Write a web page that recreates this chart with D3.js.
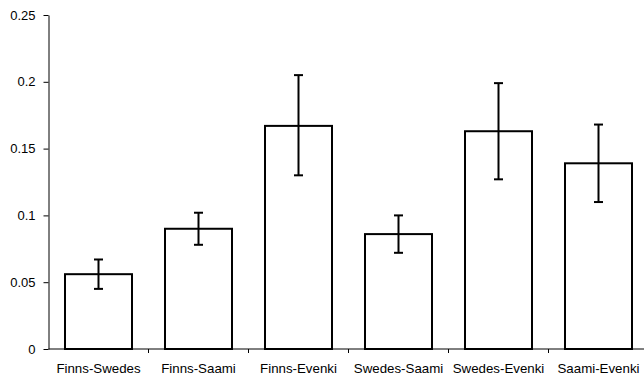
<!DOCTYPE html>
<html>
<head>
<meta charset="utf-8">
<script src="https://cdn.jsdelivr.net/npm/d3@7"></script>
<style>
  body { margin: 0; background: #fff; }
  text { font-family: "Liberation Sans", Arial, sans-serif; fill: #000; }
</style>
</head>
<body>
<div id="chart"></div>
<script>
// pair names along the x axis
var pairs = ["Finns-Swedes", "Finns-Saami", "Finns-Evenki", "Swedes-Saami", "Swedes-Evenki", "Saami-Evenki"];
// bar heights
var values = [0.056, 0.090, 0.167, 0.086, 0.163, 0.139];
// error bar ends
var errLow = [0.045, 0.078, 0.130, 0.072, 0.127, 0.110];
var errHigh = [0.067, 0.102, 0.205, 0.100, 0.199, 0.168];
var yTicks = [0, 0.05, 0.1, 0.15, 0.2, 0.25];

var margin = {top: 15, right: 0, bottom: 30, left: 48.5},
    width = 644 - margin.left - margin.right,
    height = 379 - margin.top - margin.bottom;

var svg = d3.select("#chart").append("svg")
    .attr("width", 644)
    .attr("height", 379)
  .append("g")
    .attr("transform", "translate(" + margin.left + "," + margin.top + ")");

// band range runs a bit past the right edge, like the original
var x = d3.scaleBand().domain(pairs).range([0, 600]).paddingInner(0.33).paddingOuter(0.165);
var xb = d3.scaleBand().domain(pairs).range([0, 600]);
var y = d3.scaleLinear().domain([0, 0.25]).range([height, 0]);

// bars
svg.selectAll(".bar")
    .data(pairs)
  .enter().append("rect")
    .attr("x", function(d) { return x(d); })
    .attr("width", x.bandwidth())
    .attr("y", function(d, i) { return y(values[i]); })
    .attr("height", function(d, i) { return y(0) - y(values[i]); })
    .attr("fill", "#fff")
    .attr("stroke", "#000")
    .attr("stroke-width", 2);

// error bars
var err = svg.selectAll(".err")
    .data(pairs)
  .enter().append("g")
    .attr("stroke", "#000")
    .attr("stroke-width", 2);

err.append("line")
    .attr("x1", function(d) { return x(d) + x.bandwidth() / 2; })
    .attr("x2", function(d) { return x(d) + x.bandwidth() / 2; })
    .attr("y1", function(d, i) { return y(errLow[i]); })
    .attr("y2", function(d, i) { return y(errHigh[i]); });

err.selectAll(".cap")
    .data(function(d) { var i = pairs.indexOf(d); return [[d, errLow[i]], [d, errHigh[i]]]; })
  .enter().append("line")
    .attr("x1", function(c) { return x(c[0]) + x.bandwidth() / 2 - 4.5; })
    .attr("x2", function(c) { return x(c[0]) + x.bandwidth() / 2 + 4.5; })
    .attr("y1", function(c) { return y(c[1]); })
    .attr("y2", function(c) { return y(c[1]); });

// y axis
var yAxis = svg.append("g")
    .call(d3.axisLeft(y).tickValues(yTicks).tickFormat(function(d) { return d; }).tickSize(5).tickSizeOuter(0));
yAxis.select(".domain").attr("stroke", "#000");
yAxis.selectAll("text").style("font-size", "13px").attr("x", -13);

// x axis: ticks sit between categories
var xAxis = svg.append("g")
    .attr("transform", "translate(0," + y(0) + ")");
xAxis.append("line")
    .attr("x1", 0).attr("x2", 600)
    .attr("stroke", "#000");
xAxis.selectAll(".tk")
    .data(pairs.slice(1))
  .enter().append("line")
    .attr("x1", function(d) { return xb(d); })
    .attr("x2", function(d) { return xb(d); })
    .attr("y1", 0).attr("y2", 4)
    .attr("stroke", "#000");
xAxis.selectAll(".lbl")
    .data(pairs)
  .enter().append("text")
    .attr("x", function(d) { return xb(d) + xb.bandwidth() / 2; })
    .attr("y", 24)
    .attr("text-anchor", "middle")
    .style("font-size", "13.3px")
    .text(function(d) { return d; });
</script>
</body>
</html>
